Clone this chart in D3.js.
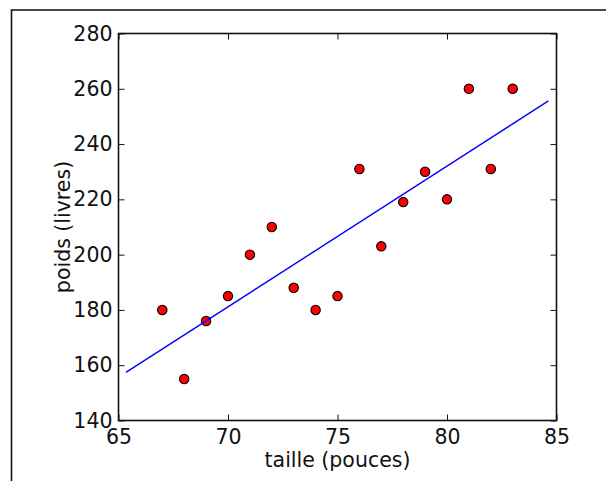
<!DOCTYPE html>
<html lang="fr">
<head>
    <meta charset="UTF-8">
    <title>poids vs taille</title>
    <style>
        body {
            margin: 0;
            background: #fff;
            font-family: "DejaVu Sans", sans-serif;
        }
        .tick text {
            font-family: "DejaVu Sans", sans-serif;
            font-size: 20.5px;
            fill: #111;
        }
        .tick line {
            stroke: #111;
            stroke-width: 1;
        }
        .label {
            font-size: 20.5px;
            fill: #111;
        }
    </style>
</head>
<body>
    <svg id="chart" width="606" height="481"></svg>

    <script src="https://d3js.org/d3.v7.min.js"></script>
    <script>
        // heights (inches) and weights (pounds)
        const taille = [67, 68, 69, 70, 71, 72, 73, 74, 75, 76, 77, 78, 79, 80, 81, 82, 83];
        const poids = [180, 155, 176, 185, 200, 210, 188, 180, 185, 231, 203, 219, 230, 220, 260, 231, 260];

        // fitted line endpoints as seen on the chart
        const ligneX = [65.34, 84.63];
        const ligneY = [157.4, 255.6];

        const xTicks = [65, 70, 75, 80, 85];
        const yTicks = [140, 160, 180, 200, 220, 240, 260, 280];

        const svg = d3.select('#chart');
        const margin = { top: 33.5, left: 118.5, right: 49.5, bottom: 60.5 };
        const width = 606 - margin.left - margin.right;
        const height = 481 - margin.top - margin.bottom;

        // outer frame of the figure
        svg.append('path')
            .attr('d', 'M11.5,490 V10 H620')
            .attr('fill', 'none')
            .attr('stroke', '#111')
            .attr('stroke-width', 1.6);

        const g = svg.append('g').attr('transform', `translate(${margin.left},${margin.top})`);

        const x = d3.scaleLinear().domain([65, 85]).range([0, width]);
        const y = d3.scaleLinear().domain([140, 280]).range([height, 0]);

        const tk = 6;

        g.append('g')
            .attr('transform', `translate(0,${height})`)
            .call(d3.axisBottom(x).tickValues(xTicks).tickSizeInner(-tk).tickSizeOuter(0).tickPadding(9))
            .call(a => a.select('.domain').remove());

        g.append('g')
            .call(d3.axisTop(x).tickValues(xTicks).tickSizeInner(-tk).tickSizeOuter(0).tickFormat(''))
            .call(a => a.select('.domain').remove());

        g.append('g')
            .call(d3.axisLeft(y).tickValues(yTicks).tickSizeInner(-tk).tickSizeOuter(0).tickPadding(6))
            .call(a => a.select('.domain').remove());

        g.append('g')
            .attr('transform', `translate(${width},0)`)
            .call(d3.axisRight(y).tickValues(yTicks).tickSizeInner(-tk).tickSizeOuter(0).tickFormat(''))
            .call(a => a.select('.domain').remove());

        g.selectAll('.tick text').attr('font-size', null).attr('font-family', null);

        const points = taille.map((t, i) => ({ t, p: poids[i] }));

        g.selectAll('.pt')
            .data(points)
            .enter().append('circle')
            .attr('class', 'pt')
            .attr('cx', d => x(d.t))
            .attr('cy', d => y(d.p))
            .attr('r', 4.7)
            .attr('fill', '#ff0000')
            .attr('stroke', '#000')
            .attr('stroke-width', 1.1);

        g.append('path')
            .datum(ligneX.map((v, i) => [v, ligneY[i]]))
            .attr('d', d3.line().x(d => x(d[0])).y(d => y(d[1])))
            .attr('fill', 'none')
            .attr('stroke', '#0000ff')
            .attr('stroke-width', 1.4);

        // plot frame
        g.append('rect')
            .attr('width', width)
            .attr('height', height)
            .attr('fill', 'none')
            .attr('stroke', '#111')
            .attr('stroke-width', 1.6);

        g.append('text')
            .attr('class', 'label')
            .attr('x', width / 2)
            .attr('y', height + 46)
            .attr('text-anchor', 'middle')
            .text('taille (pouces)');

        g.append('text')
            .attr('class', 'label')
            .attr('transform', `translate(${69.5 - margin.left},${height / 2}) rotate(-90)`)
            .attr('text-anchor', 'middle')
            .text('poids (livres)');
    </script>
</body>
</html>
